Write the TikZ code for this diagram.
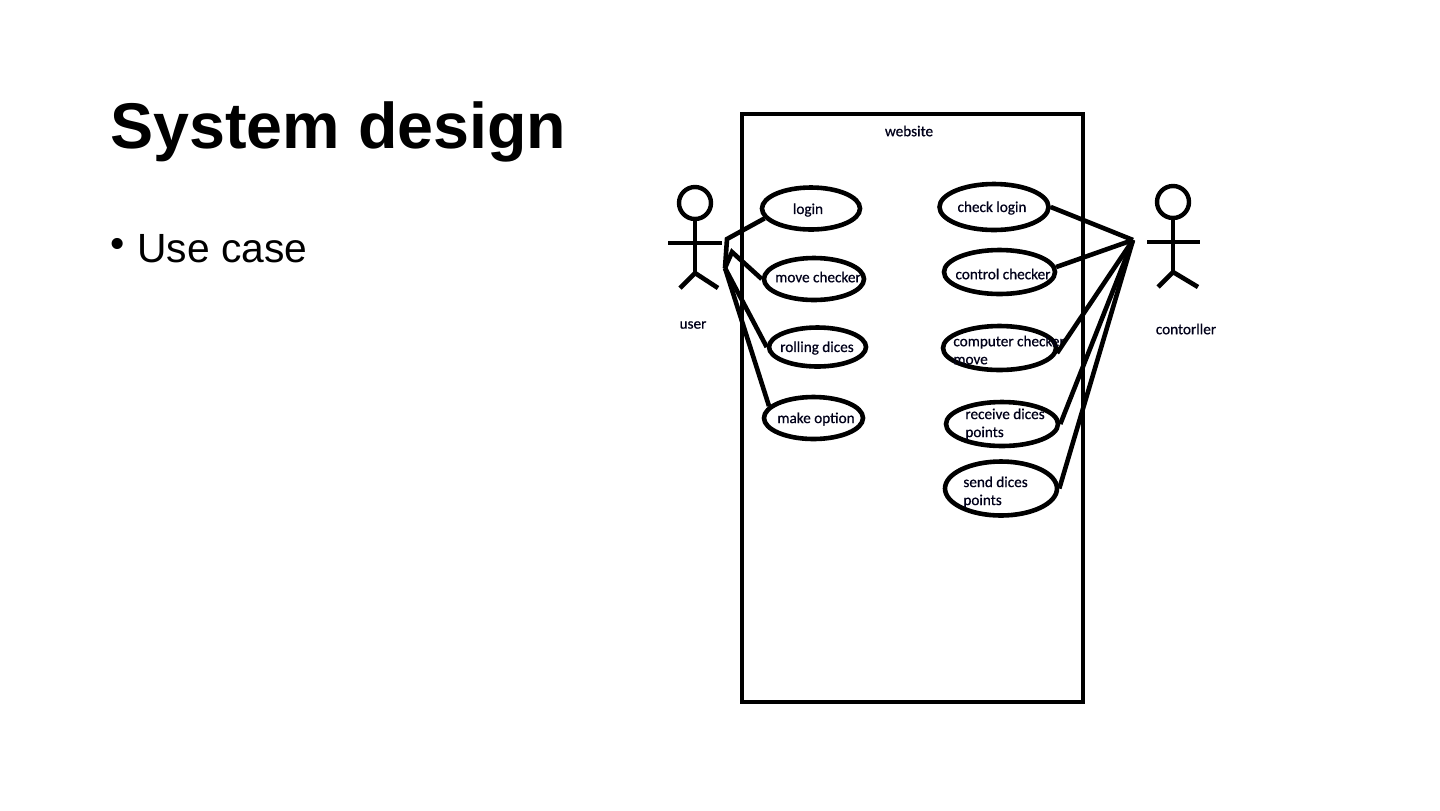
\documentclass[tikz,border=0pt]{standalone}
\usepackage{fontspec}
\setmainfont{Liberation Sans}
\newfontfamily\casefont[RawFeature={embolden=0.6}]{Carlito}
\usetikzlibrary{shapes.geometric}
\tikzset{
	usecase/.style={draw, ellipse, line width=2.3pt, inner sep=0pt, minimum width=48pt, minimum height=21pt},
	caselabel/.style={font=\casefont\fontsize{7.6}{9}\selectfont, text=black!90!blue, inner sep=0pt, align=left},
	actorhead/.style={draw, circle, line width=2.2pt, inner sep=0pt, minimum size=16pt},
	limb/.style={line width=2.3pt}
}
\begin{document}
\begin{tikzpicture}[x=0.5pt, y=-0.5pt]
	\useasboundingbox (0,0) rectangle (1440,810);
	% slide text
	\node[anchor=west, inner sep=0pt, font=\bfseries\fontsize{32.3}{36}\selectfont] (title) at (110,132) {System design};
	\node[anchor=west, inner sep=0pt, font=\fontsize{20.4}{24}\selectfont] (bullet) at (110,248) {•};
	\node[anchor=west, inner sep=0pt, font=\fontsize{20.4}{24}\selectfont] (usecase) at (137,249) {Use case};
	% website box
	\node[draw, line width=2.3pt, minimum width=170.5pt, minimum height=294pt, inner sep=0pt] (website) at (912.5,408) {};
	\node[caselabel] (websitelabel) at (909,131) {website};
	% use cases, left
	\node[usecase, minimum width=49pt, minimum height=21pt] (login) at (811,208.5) {};
	\node[usecase, minimum width=50pt, minimum height=21pt] (move) at (814,279) {};
	\node[usecase, minimum width=48.5pt, minimum height=19.5pt] (rolling) at (817.5,347) {};
	\node[usecase, minimum width=49.5pt, minimum height=21pt] (option) at (813.5,418) {};
	\node[caselabel] at (808,210) {login};
	\node[caselabel] at (818,277) {move checker};
	\node[caselabel] at (817,348) {rolling dices};
	\node[caselabel] at (816,419) {make option};
	% use cases, right
	\node[usecase, minimum width=54.5pt, minimum height=23pt] (checklogin) at (994,207) {};
	\node[usecase, minimum width=55.5pt, minimum height=22pt] (control) at (999.5,272) {};
	\node[usecase, minimum width=56.5pt, minimum height=22pt] (computer) at (999.5,348) {};
	\node[usecase, minimum width=56pt, minimum height=22pt] (receive) at (1002,424) {};
	\node[usecase, minimum width=56pt, minimum height=27pt] (send) at (1001,488.5) {};
	\node[caselabel] at (992,208) {check login};
	\node[caselabel] at (1003,274) {control checker};
	\node[caselabel, anchor=west] at (953,350) {computer checker\\move};
	\node[caselabel, anchor=west] at (965,424) {receive dices\\points};
	\node[caselabel, anchor=west] at (963,492) {send dices\\points};
	% actors
	\node[actorhead] (userhead) at (695,203) {};
	\draw[limb] (userhead) -- (695,273) coordinate (userhip);
	\draw[limb] (668,243) -- (722,243);
	\draw[limb] (680,288) -- (userhip) -- (718,288);
	\node[caselabel] (userlabel) at (693,325) {user};
	\node[actorhead] (ctrlhead) at (1173,202) {};
	\draw[limb] (ctrlhead) -- (1173,272) coordinate (ctrlhip);
	\draw[limb] (1147,242) -- (1200,242);
	\draw[limb] (1158,287) -- (ctrlhip) -- (1198,287);
	\node[caselabel] (ctrllabel) at (1186,329) {contorller};
	% connectors, left
	\coordinate (userhand) at (727,239);
	\coordinate (userjoint) at (732,252);
	\coordinate (userfoot) at (725,268);
	\draw[limb] (login.192) -- (userhand) -- (userfoot);
	\draw[limb] (move.west) -- (userjoint) -- (userfoot);
	\draw[limb] (rolling.west) -- (userfoot);
	\draw[limb] (userfoot) -- (option.165);
	% connectors, right
	\coordinate (ctrlhand) at (1133,240);
	\draw[limb] (checklogin.east) -- (ctrlhand);
	\draw[limb] (control.5) -- (ctrlhand);
	\draw[limb] (computer.-5) -- (ctrlhand);
	\draw[limb] (receive.east) -- (ctrlhand);
	\draw[limb] (send.east) -- (ctrlhand);
\end{tikzpicture}
\end{document}
